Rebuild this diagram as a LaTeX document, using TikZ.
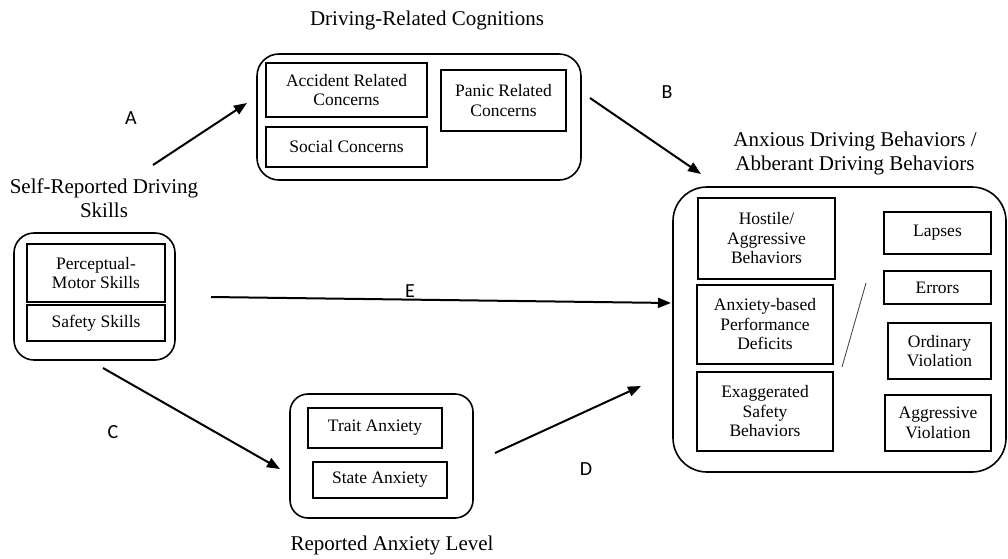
\documentclass[tikz,border=0pt]{standalone}
\usepackage{fontspec}
\setmainfont{Liberation Serif}
\newfontfamily\lettersans{Carlito}
\usetikzlibrary{arrows.meta}
\begin{document}
\begin{tikzpicture}[x=1pt,y=-1pt,
  outer/.style={draw,line width=1.6pt,rounded corners=#1,inner sep=0pt},
  outer/.default=20pt,
  ibox/.style={draw,line width=1.1pt,align=center,inner sep=0pt,
    font=\fontsize{17.5}{19.5}\selectfont},
  title/.style={align=center,font=\fontsize{21}{24}\selectfont},
  pathlabel/.style={font=\lettersans\fontsize{20}{22}\selectfont},
  link/.style={line width=2pt,-{Triangle[length=13pt,width=10pt]}},
]
\useasboundingbox (0,0) rectangle (1008,558);

% Driving-related cognitions
\node[title] (cogtitle) at (427,20) {Driving-Related Cognitions};
\node[outer=22pt,minimum width=324pt,minimum height=126pt] (cog) at (419,117) {};
\node[ibox,minimum width=161pt,minimum height=54pt] (acc) at (346.5,90) {Accident Related\\Concerns};
\node[ibox,minimum width=161pt,minimum height=40pt] (soc) at (346.5,147) {Social Concerns};
\node[ibox,minimum width=125pt,minimum height=61pt] (pan) at (503.5,100.5) {Panic Related\\Concerns};

% Self-reported driving skills
\node[title] (skilltitle) at (104,198) {Self-Reported Driving\\Skills};
\node[outer=20pt,minimum width=161pt,minimum height=127pt] (skills) at (94.5,296.5) {};
\node[ibox,minimum width=138pt,minimum height=58pt] (per) at (96,273) {Perceptual-\\Motor Skills};
\node[ibox,minimum width=138pt,minimum height=36pt] (saf) at (96,323) {Safety Skills};

% Reported anxiety level
\node[outer=18pt,minimum width=183pt,minimum height=124pt] (anx) at (381.5,456) {};
\node[ibox,minimum width=134pt,minimum height=40pt] (trait) at (375,428) {Trait Anxiety};
\node[ibox,minimum width=134pt,minimum height=36pt] (state) at (380,480) {State Anxiety};
\node[title] (anxtitle) at (392,545) {Reported Anxiety Level};

% Anxious / aberrant driving behaviours
\node[title] (behtitle) at (855,153) {Anxious Driving Behaviors /\\Abberant Driving Behaviors};
\node[outer=34pt,minimum width=333pt,minimum height=285pt] (beh) at (839.5,329.5) {};
\node[ibox,minimum width=137pt,minimum height=81pt] (hos) at (766.5,238.5) {Hostile/\\Aggressive\\Behaviors};
\node[ibox,minimum width=136pt,minimum height=79pt] (abp) at (765,324.5) {Anxiety-based\\Performance\\Deficits};
\node[ibox,minimum width=136pt,minimum height=79pt] (exa) at (765,411.5) {Exaggerated\\Safety\\Behaviors};
\node[ibox,minimum width=107pt,minimum height=42pt] (lap) at (937.5,233) {Lapses};
\node[ibox,minimum width=107pt,minimum height=33pt] (err) at (937.5,287.5) {Errors};
\node[ibox,minimum width=103pt,minimum height=56pt] (ord) at (939.5,351) {Ordinary\\Violation};
\node[ibox,minimum width=106pt,minimum height=56pt] (agg) at (938,423) {Aggressive\\Violation};
\coordinate (slashtop) at (866,283);
\coordinate (slashbot) at (842,367);
\draw[line width=0.9pt,black!70] (slashtop) -- (slashbot);

% Paths between the constructs
\coordinate (a0) at (153,165);  \coordinate (a1) at (247,103);
\coordinate (b0) at (590,98);   \coordinate (b1) at (701,174);
\coordinate (e0) at (211,297);  \coordinate (e1) at (671,303);
\coordinate (c0) at (103,368);  \coordinate (c1) at (280,469);
\coordinate (d0) at (495,453);  \coordinate (d1) at (641,386);
\draw[link] (a0) -- (a1);
\draw[link] (b0) -- (b1);
\draw[link] (e0) -- (e1);
\draw[link] (c0) -- (c1);
\draw[link] (d0) -- (d1);

\node[pathlabel] (la) at (131,118) {A};
\node[pathlabel] (lb) at (667,92) {B};
\node[pathlabel] (le) at (410,291) {E};
\node[pathlabel] (lc) at (113,432) {C};
\node[pathlabel] (ld) at (586,469) {D};
\end{tikzpicture}
\end{document}
